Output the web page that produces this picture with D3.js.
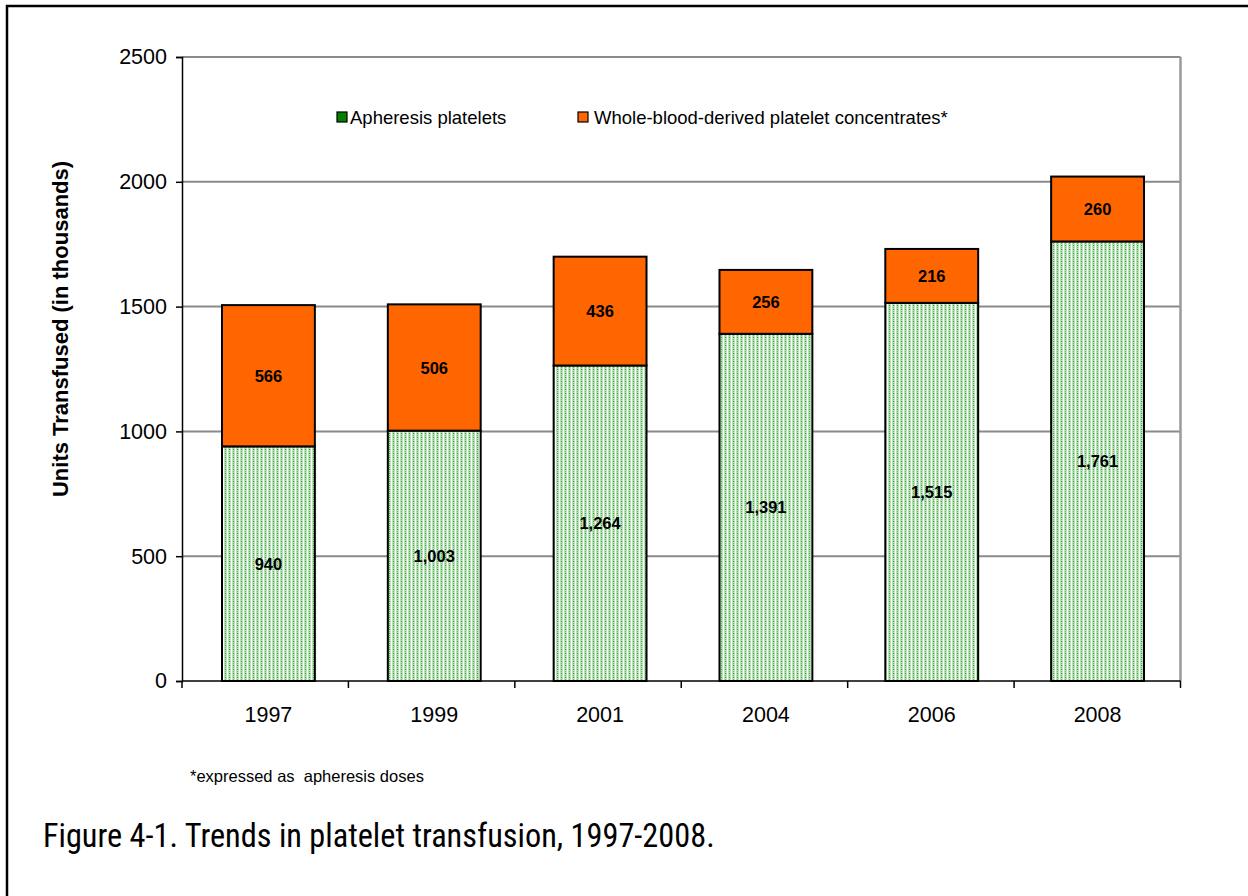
<!DOCTYPE html>
<html><head><meta charset="utf-8">
<script src="https://cdn.jsdelivr.net/npm/d3@7"></script>
<style>body{margin:0;background:#fff}svg{display:block}</style>
</head><body>
<svg id="c" width="1248" height="896"></svg>
<script>
const years = ["1997","1999","2001","2004","2006","2008"];
const apheresis = [940,1003,1264,1391,1515,1761];
const wholeBlood = [566,506,436,256,216,260];
const yTicks = [0,500,1000,1500,2000,2500];
const seriesNames = ["Apheresis platelets","Whole-blood-derived platelet concentrates*"];

const svg = d3.select("#c");
const defs = svg.append("defs");
const pat = defs.append("pattern").attr("id","dots").attr("patternUnits","userSpaceOnUse")
  .attr("width",4).attr("height",4);
pat.append("rect").attr("width",4).attr("height",4).attr("fill","#ffffff");
pat.append("rect").attr("x",0).attr("y",0).attr("width",3).attr("height",4).attr("fill","#b5e2b5");
pat.append("rect").attr("x",1).attr("y",1).attr("width",1).attr("height",1).attr("fill","#3c9c3c");
pat.append("rect").attr("x",1).attr("y",3).attr("width",1).attr("height",1).attr("fill","#6cbc6c");

const FONT = "Liberation Sans, Arial, sans-serif";

// outer frame
svg.append("rect").attr("x",7).attr("y",6).attr("width",1260).attr("height",920)
  .attr("fill","none").attr("stroke","#000").attr("stroke-width",2.5);

const L=182, R=1180.5, T=57, B=681;
const x = d3.scaleBand().domain(years).range([222,1144]).paddingInner(0.44).paddingOuter(0);
const y = d3.scaleLinear().domain([0,2500]).range([B,T]);

// grid
svg.append("g").selectAll("line").data(yTicks.filter(d=>d>0)).join("line")
  .attr("x1",L).attr("x2",R).attr("y1",d=>y(d)).attr("y2",d=>y(d))
  .attr("stroke","#8a8a8a").attr("stroke-width",2);
svg.append("line").attr("x1",R).attr("x2",R).attr("y1",T).attr("y2",B)
  .attr("stroke","#9a9a9a").attr("stroke-width",2.5);

// bars
const data = years.map((yr,i)=>({yr,a:apheresis[i],w:wholeBlood[i]}));
const g = svg.append("g");
g.selectAll("rect.a").data(data).join("rect").attr("class","a")
  .attr("x",d=>x(d.yr)).attr("width",x.bandwidth())
  .attr("y",d=>y(d.a)).attr("height",d=>y(0)-y(d.a))
  .attr("fill","url(#dots)").attr("stroke","#000").attr("stroke-width",2);
g.selectAll("rect.w").data(data).join("rect").attr("class","w")
  .attr("x",d=>x(d.yr)).attr("width",x.bandwidth())
  .attr("y",d=>y(d.a+d.w)).attr("height",d=>y(d.a)-y(d.a+d.w))
  .attr("fill","#ff6600").attr("stroke","#000").attr("stroke-width",2);

const fmt = d3.format(",");
g.selectAll("text.la").data(data).join("text")
  .attr("x",d=>x(d.yr)+x.bandwidth()/2).attr("y",d=>y(d.a/2)+6)
  .attr("text-anchor","middle").attr("font-family",FONT)
  .attr("font-weight","bold").attr("font-size",16.5).text(d=>fmt(d.a));
g.selectAll("text.lw").data(data).join("text")
  .attr("x",d=>x(d.yr)+x.bandwidth()/2).attr("y",d=>y(d.a+d.w/2)+6)
  .attr("text-anchor","middle").attr("font-family",FONT)
  .attr("font-weight","bold").attr("font-size",16.5).text(d=>fmt(d.w));

// axes
const yAxis = svg.append("g").attr("transform",`translate(${L},0)`)
  .call(d3.axisLeft(y).tickValues(yTicks).tickSize(6).tickPadding(9).tickFormat(d3.format("d")));
yAxis.select(".domain").attr("stroke","#000").attr("stroke-width",1.5);
yAxis.selectAll(".tick line").attr("stroke","#000").attr("stroke-width",1.5);
yAxis.selectAll("text").attr("font-family",FONT).attr("font-size",21.5).attr("fill","#000");

const xb = d3.scaleLinear().domain([0,6]).range([L,R]);
svg.append("line").attr("x1",L).attr("x2",R).attr("y1",B).attr("y2",B).attr("stroke","#000").attr("stroke-width",1.5);
svg.append("g").selectAll("line").data(d3.range(7)).join("line")
  .attr("x1",d=>xb(d)).attr("x2",d=>xb(d)).attr("y1",B).attr("y2",B+7)
  .attr("stroke","#000").attr("stroke-width",1.5);
svg.append("g").selectAll("text").data(years).join("text")
  .attr("x",d=>x(d)+x.bandwidth()/2).attr("y",722).attr("text-anchor","middle")
  .attr("font-family",FONT).attr("font-size",21.5).text(d=>d);

// y title
svg.append("text").attr("transform","translate(68,329) rotate(-90)").attr("text-anchor","middle")
  .attr("font-family",FONT).attr("font-weight","bold").attr("font-size",22)
  .text("Units Transfused (in thousands)");

// legend
const legX = [337,578];
const legC = ["#008000","#ff6600"];
seriesNames.forEach((n,i)=>{
  svg.append("rect").attr("x",legX[i]).attr("y",112).attr("width",10).attr("height",10)
    .attr("fill",legC[i]).attr("stroke","#000").attr("stroke-width",1.2);
  svg.append("text").attr("x",legX[i]+(i?16:13)).attr("y",124)
    .attr("font-family",FONT).attr("font-size",18.5).text(n);
});

// footnote & caption
svg.append("text").attr("x",190).attr("y",782).attr("font-family",FONT)
  .attr("font-size",16.5).text("*expressed as\u00a0 apheresis doses");
svg.append("text").attr("x",43).attr("y",847).attr("font-family","Liberation Sans Narrow, Roboto Condensed, Arial Narrow, sans-serif")
  .attr("font-size",32.3).attr("font-stretch","condensed").text("Figure 4-1. Trends in platelet transfusion, 1997-2008.");
</script>
</body></html>
